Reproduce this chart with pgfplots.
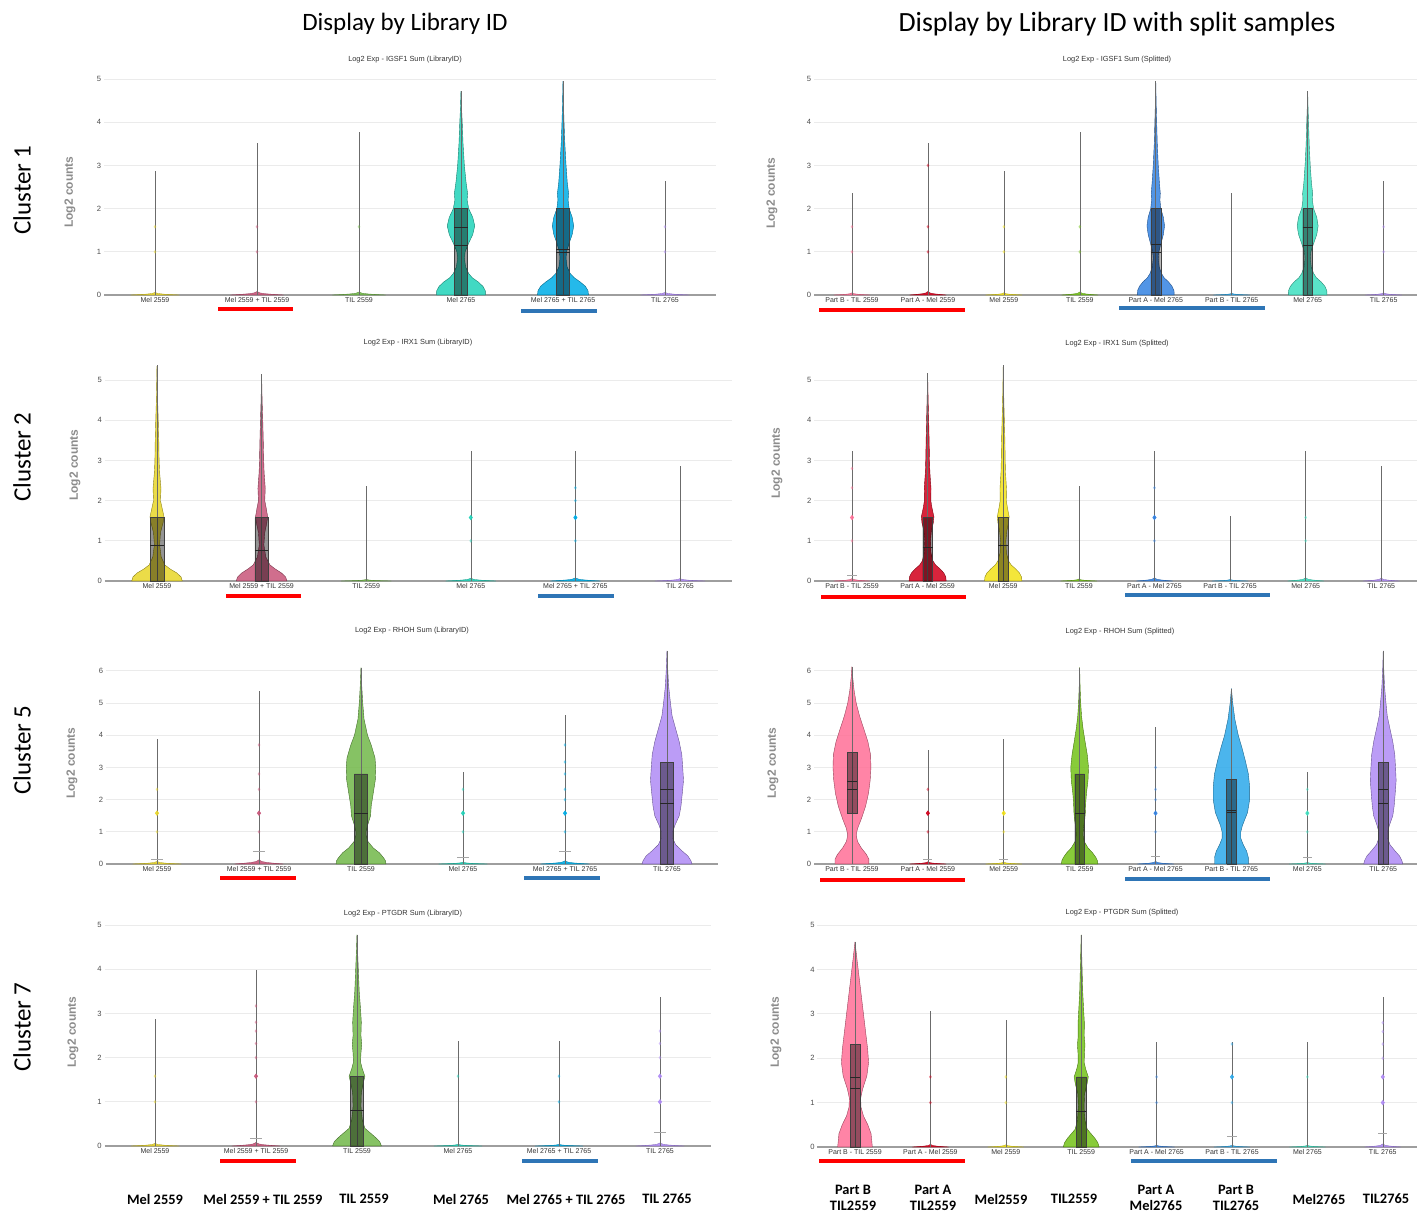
\documentclass[border=0pt]{standalone}
\usepackage{pgfplots}
\pgfplotsset{compat=1.18}
\usepackage{pgfplotstable}
\usepackage{fontspec}
\setmainfont{Carlito}
\newfontfamily\axfont{Liberation Sans}
% left-column colours
\definecolor{cA}{HTML}{E8D62A}
\definecolor{cB}{HTML}{C8567A}
\definecolor{cC}{HTML}{72B84A}
\definecolor{cD}{HTML}{22D3B9}
\definecolor{cE}{HTML}{00ADE6}
\definecolor{cF}{HTML}{B08CF5}
% right-column colours
\definecolor{rA}{HTML}{FF7097}
\definecolor{rB}{HTML}{D2001C}
\definecolor{rC}{HTML}{F2E21A}
\definecolor{rD}{HTML}{74C21A}
\definecolor{rE}{HTML}{3583E2}
\definecolor{rF}{HTML}{2DA9EA}
\definecolor{rG}{HTML}{3FE0C0}
\definecolor{rH}{HTML}{B08CF5}
\definecolor{ulred}{HTML}{FF0000}
\definecolor{ulblue}{HTML}{2E75B6}

\pgfplotstableread{
dx s
-1 0
1 0
1 1
-1 1
-1 0
}\boxT
\pgfplotstableread{
d e
-1 0
1 0
}\segT
\pgfplotstableread{
s e
0 0
1 0
}\vertT
\pgfplotstableread{
y w
0 0
0 1
0.15 0.7
0.35 0.35
0.6 0.12
1 0
}\tinyT

% ---- violin shapes (y, half width in category units) ----
\pgfplotstableread{
y w
0 0
0 0.24
0.1 0.238
0.2 0.215
0.3 0.17
0.4 0.11
0.5 0.075
0.65 0.045
0.85 0.033
1.0 0.04
1.2 0.075
1.4 0.115
1.6 0.135
1.8 0.115
2.0 0.075
2.2 0.06
2.35 0.065
2.6 0.05
3.0 0.033
3.5 0.02
4.0 0.012
4.3 0.006
4.72 0
}\vioA
\pgfplotstableread{
y w
0 0
0 0.25
0.1 0.245
0.2 0.22
0.3 0.17
0.4 0.11
0.5 0.07
0.65 0.04
0.85 0.03
1.0 0.035
1.2 0.06
1.4 0.09
1.6 0.105
1.8 0.09
2.0 0.06
2.2 0.05
2.35 0.055
2.6 0.042
3.0 0.03
3.5 0.018
4.0 0.01
4.4 0.005
4.95 0
}\vioB
\pgfplotstableread{
y w
0 0
0 0.243
0.1 0.24
0.2 0.215
0.3 0.17
0.4 0.11
0.5 0.075
0.65 0.045
0.85 0.033
1.0 0.04
1.2 0.07
1.4 0.1
1.6 0.116
1.8 0.1
2.0 0.066
2.2 0.055
2.35 0.06
2.6 0.048
3.0 0.033
3.5 0.02
4.0 0.012
4.4 0.006
4.95 0
}\vioC
\pgfplotstableread{
y w
0 0
0 0.255
0.1 0.252
0.2 0.228
0.3 0.18
0.4 0.115
0.5 0.078
0.65 0.047
0.85 0.035
1.0 0.042
1.2 0.08
1.4 0.12
1.6 0.138
1.8 0.12
2.0 0.078
2.2 0.062
2.35 0.066
2.6 0.05
3.0 0.034
3.5 0.02
4.0 0.012
4.3 0.006
4.72 0
}\vioD
\pgfplotstableread{
y w
0 0
0 0.242
0.1 0.23
0.2 0.19
0.3 0.125
0.4 0.075
0.6 0.04
0.9 0.025
1.2 0.033
1.45 0.058
1.6 0.067
1.8 0.05
2.0 0.033
2.3 0.038
2.7 0.025
3.0 0.02
3.5 0.017
4.0 0.012
4.5 0.006
5.35 0
}\vioE
\pgfplotstableread{
y w
0 0
0 0.242
0.1 0.23
0.2 0.19
0.3 0.13
0.4 0.08
0.6 0.04
0.9 0.022
1.2 0.03
1.45 0.05
1.6 0.058
1.8 0.045
2.0 0.03
2.3 0.035
2.7 0.024
3.0 0.02
3.5 0.016
4.0 0.011
4.5 0.005
5.15 0
}\vioF
\pgfplotstableread{
y w
0 0
0 0.245
0.1 0.24
0.2 0.215
0.3 0.165
0.4 0.105
0.5 0.07
0.7 0.045
1.0 0.038
1.25 0.05
1.45 0.075
1.6 0.083
1.8 0.06
2.0 0.042
2.3 0.045
2.7 0.03
3.0 0.025
3.5 0.02
4.0 0.014
4.5 0.007
5.17 0
}\vioG
\pgfplotstableread{
y w
0 0
0 0.247
0.1 0.242
0.2 0.215
0.3 0.165
0.4 0.105
0.5 0.07
0.7 0.042
1.0 0.035
1.25 0.048
1.45 0.07
1.6 0.078
1.8 0.058
2.0 0.04
2.3 0.043
2.7 0.03
3.0 0.026
3.5 0.022
4.0 0.015
4.5 0.008
5.37 0
}\vioH
\pgfplotstableread{
y w
0 0
0 0.245
0.1 0.24
0.2 0.22
0.35 0.18
0.5 0.12
0.7 0.068
0.9 0.05
1.0 0.05
1.2 0.064
1.5 0.094
1.8 0.1
2.0 0.11
2.2 0.12
2.6 0.14
3.0 0.145
3.3 0.137
3.7 0.1
4.0 0.064
4.5 0.03
5.0 0.017
5.5 0.008
6.1 0
}\vioI
\pgfplotstableread{
y w
0 0
0 0.245
0.1 0.235
0.25 0.205
0.4 0.15
0.6 0.085
0.8 0.056
1.0 0.056
1.2 0.077
1.5 0.12
1.8 0.137
2.2 0.15
2.6 0.162
3.0 0.154
3.4 0.145
3.8 0.12
4.2 0.085
4.6 0.05
5.0 0.034
5.5 0.017
6.0 0.008
6.62 0
}\vioJ
\pgfplotstableread{
y w
0 0
0 0.223
0.15 0.223
0.3 0.19
0.5 0.123
0.7 0.073
0.9 0.056
1.1 0.073
1.4 0.123
1.8 0.18
2.2 0.218
2.6 0.24
3.0 0.25
3.4 0.245
3.8 0.21
4.2 0.156
4.6 0.1
5.0 0.056
5.4 0.028
5.8 0.01
6.13 0
}\vioK
\pgfplotstableread{
y w
0 0
0 0.24
0.1 0.235
0.2 0.215
0.35 0.17
0.5 0.11
0.7 0.06
0.9 0.045
1.1 0.05
1.4 0.068
1.6 0.075
1.9 0.08
2.2 0.09
2.6 0.11
3.0 0.117
3.4 0.1
3.8 0.072
4.2 0.045
4.6 0.025
5.0 0.014
5.5 0.006
6.1 0
}\vioL
\pgfplotstableread{
y w
0 0
0 0.223
0.2 0.223
0.4 0.2
0.6 0.156
0.8 0.123
1.0 0.123
1.2 0.145
1.6 0.212
2.0 0.24
2.4 0.24
2.8 0.223
3.2 0.184
3.6 0.14
4.0 0.09
4.5 0.045
5.0 0.017
5.45 0
}\vioM
\pgfplotstableread{
y w
0 0
0 0.257
0.1 0.247
0.25 0.215
0.4 0.158
0.6 0.089
0.8 0.059
1.0 0.059
1.2 0.081
1.5 0.126
1.8 0.144
2.2 0.158
2.6 0.17
3.0 0.162
3.4 0.152
3.8 0.126
4.2 0.089
4.6 0.053
5.0 0.036
5.5 0.018
6.0 0.008
6.62 0
}\vioN
\pgfplotstableread{
y w
0 0
0 0.242
0.1 0.225
0.2 0.18
0.3 0.13
0.4 0.078
0.6 0.052
0.9 0.039
1.2 0.043
1.4 0.06
1.58 0.078
1.75 0.052
1.9 0.035
2.1 0.039
2.3 0.047
2.5 0.039
2.8 0.043
3.1 0.035
3.5 0.022
4.0 0.013
4.4 0.006
4.78 0
}\vioO
\pgfplotstableread{
y w
0 0
0 0.23
0.3 0.213
0.5 0.17
0.7 0.112
0.9 0.079
1.1 0.075
1.3 0.1
1.6 0.157
1.9 0.18
2.2 0.168
2.6 0.14
3.0 0.112
3.4 0.084
3.8 0.056
4.2 0.028
4.62 0
}\vioP
\pgfplotstableread{
y w
0 0
0 0.238
0.1 0.22
0.2 0.18
0.3 0.13
0.4 0.08
0.6 0.05
0.9 0.038
1.2 0.045
1.4 0.075
1.58 0.094
1.75 0.06
1.9 0.04
2.1 0.042
2.3 0.05
2.5 0.04
2.8 0.042
3.1 0.032
3.5 0.02
4.0 0.012
4.4 0.006
4.78 0
}\vioQ

% ---- drawing helpers (all through \addplot) ----
\newcommand\vio[3]{%
 \addplot[fill=#2, fill opacity=0.86, draw=#2!60!black, line width=0.2pt] table[x expr=#1+\thisrow{w}, y=y]{#3};
 \addplot[fill=#2, fill opacity=0.86, draw=#2!60!black, line width=0.2pt] table[x expr=#1-\thisrow{w}, y=y]{#3};}
\newcommand\tv[4]{%
 \addplot[fill=#2, fill opacity=0.9, draw=#2!75!black, line width=0.15pt] table[x expr=#1+#4*\thisrow{w}, y expr=#3*\thisrow{y}]{\tinyT};
 \addplot[fill=#2, fill opacity=0.9, draw=#2!75!black, line width=0.15pt] table[x expr=#1-#4*\thisrow{w}, y expr=#3*\thisrow{y}]{\tinyT};}
\newcommand\wh[2]{\addplot[draw=black!58, line width=0.3pt] table[x expr=#1, y expr=#2*\thisrow{s}]{\vertT};}
\newcommand\hl[2]{\addplot[draw=black!85, line width=0.25pt] table[x expr=#1+0.065*\thisrow{d}, y expr=#2]{\segT};}
\newcommand\cp[2]{\addplot[draw=black!35, line width=0.3pt] table[x expr=#1+0.06*\thisrow{d}, y expr=#2]{\segT};}
\newcommand\bx[3]{\addplot[fill=black, fill opacity=0.42, draw=black!75, line width=0.2pt] table[x expr=#1+0.065*\thisrow{dx}, y expr=#2+(#3-#2)*\thisrow{s}]{\boxT};}
% faint outliers and prominent outliers
\newcommand\ol[2]{\addplot[only marks, mark=diamond*, mark size=0.65pt, color=#1, opacity=0.35] coordinates {#2};}
\newcommand\olb[2]{\addplot[only marks, mark=diamond*, mark size=1.05pt, color=#1, opacity=0.9] coordinates {#2};}

\pgfplotsset{
 vbase/.style={
  scale only axis, anchor=south west,
  axis x line=bottom, axis y line=left,
  axis line style={-},
  x axis line style={draw=black!38, line width=0.6pt},
  y axis line style={draw=none},
  major tick length=0pt, tick style={draw=none},
  ymajorgrids, grid style={draw=black!8, line width=0.45pt},
  ymin=0, xmin=-0.5,
  ytick={0,1,2,3,4,5,6},
  /pgf/number format/assume math mode=true,
  yticklabel style={font=\axfont\fontsize{3.8}{4}\selectfont, text=black!70, inner sep=1.2pt},
  xticklabel style={font=\axfont\fontsize{3.5}{4}\selectfont, text=black!80, inner sep=1pt},
  clip=false,
 },
 leftcats/.style={xmax=5.5, xtick={0,1,2,3,4,5},
  xticklabels={{Mel 2559},{Mel 2559 + TIL 2559},{TIL 2559},{Mel 2765},{Mel 2765 + TIL 2765},{TIL 2765}}},
 rightcats/.style={xtick={0,1,2,3,4,5,6,7},
  xticklabels={{Part B - TIL 2559},{Part A - Mel 2559},{Mel 2559},{TIL 2559},{Part A - Mel 2765},{Part  B - TIL 2765},{Mel 2765},{TIL 2765}}},
}

\begin{document}
\begin{tikzpicture}
\useasboundingbox (0,0) rectangle (708.5pt,-606pt);

% ===== Row 1 left =====
\begin{axis}[vbase, leftcats, at={(52pt,-147.5pt)}, width=306pt, height=108pt, ymax=5]
\tv{0}{cA}{0.06}{0.24} \wh{0}{2.87} \ol{cA}{(0,1) (0,1.58)}
\tv{1}{cB}{0.08}{0.26} \wh{1}{3.52} \ol{cB}{(1,1) (1,1.58)}
\tv{2}{cC}{0.07}{0.26} \wh{2}{3.78} \ol{cC}{(2,1.58)}
\vio{3}{cD}{\vioA} \wh{3}{4.72} \bx{3}{0}{2} \hl{3}{1.58} \hl{3}{1.15}
\vio{4}{cE}{\vioB} \wh{4}{4.95} \bx{4}{0}{2} \hl{4}{1.0} \hl{4}{1.07}
\tv{5}{cF}{0.06}{0.24} \wh{5}{2.63} \ol{cF}{(5,1) (5,1.58)}
\end{axis}

% ===== Row 1 right =====
\begin{axis}[vbase, rightcats, at={(407pt,-147.5pt)}, width=301.5pt, height=108pt, xmax=7.44, ymax=5]
\tv{0}{rA}{0.05}{0.24} \wh{0}{2.37} \ol{rA}{(0,1) (0,1.58)}
\tv{1}{rB}{0.08}{0.24} \wh{1}{3.53} \ol{rB}{(1,1) (1,1.58) (1,3)}
\tv{2}{rC}{0.05}{0.24} \wh{2}{2.87} \ol{rC}{(2,1) (2,1.58)}
\tv{3}{rD}{0.07}{0.24} \wh{3}{3.78} \ol{rD}{(3,1) (3,1.58)}
\vio{4}{rE}{\vioC} \wh{4}{4.95} \bx{4}{0}{2} \hl{4}{1.0} \hl{4}{1.17}
\tv{5}{rF}{0.04}{0.24} \wh{5}{2.37}
\vio{6}{rG}{\vioD} \wh{6}{4.72} \bx{6}{0}{2} \hl{6}{1.58} \hl{6}{1.15}
\tv{7}{rH}{0.05}{0.24} \wh{7}{2.63} \ol{rH}{(7,1) (7,1.58)}
\end{axis}

% ===== Row 2 left =====
\begin{axis}[vbase, leftcats, at={(52.35pt,-290.5pt)}, width=313.8pt, height=108.5pt, ymax=5.4]
\vio{0}{cA}{\vioE} \wh{0}{5.37} \bx{0}{0}{1.58} \hl{0}{0.9}
\vio{1}{cB}{\vioF} \wh{1}{5.15} \bx{1}{0}{1.58} \hl{1}{0.77}
\tv{2}{cC}{0.04}{0.24} \wh{2}{2.37}
\tv{3}{cD}{0.07}{0.24} \wh{3}{3.23} \ol{cD}{(3,1)} \olb{cD}{(3,1.58)}
\tv{4}{cE}{0.08}{0.24} \wh{4}{3.23} \ol{cE}{(4,1) (4,2) (4,2.32)} \olb{cE}{(4,1.58)}
\tv{5}{cF}{0.06}{0.24} \wh{5}{2.87}
\end{axis}

% ===== Row 2 right =====
\begin{axis}[vbase, rightcats, at={(407.1pt,-290.5pt)}, width=301.3pt, height=108.5pt, xmax=7.47, ymax=5.4]
\tv{0}{rA}{0.06}{0.24} \wh{0}{3.23} \cp{0}{0.15} \ol{rA}{(0,1) (0,2.32) (0,2.8)} \olb{rA}{(0,1.58)}
\vio{1}{rB}{\vioG} \wh{1}{5.17} \bx{1}{0}{1.58} \hl{1}{0.83}
\vio{2}{rC}{\vioH} \wh{2}{5.37} \bx{2}{0}{1.58} \hl{2}{0.88}
\tv{3}{rD}{0.05}{0.24} \wh{3}{2.37}
\tv{4}{rE}{0.08}{0.24} \wh{4}{3.23} \ol{rE}{(4,1) (4,2.32)} \olb{rE}{(4,1.58)}
\tv{5}{rF}{0.04}{0.24} \wh{5}{1.62}
\tv{6}{rG}{0.08}{0.24} \wh{6}{3.23} \ol{rG}{(6,1) (6,1.58)}
\tv{7}{rH}{0.07}{0.24} \wh{7}{2.87}
\end{axis}

% ===== Row 3 left =====
\begin{axis}[vbase, leftcats, at={(53pt,-432pt)}, width=306pt, height=107pt, ymax=6.65]
\tv{0}{cA}{0.08}{0.24} \wh{0}{3.88} \cp{0}{0.15} \ol{cA}{(0,1) (0,2.32)} \olb{cA}{(0,1.58)}
\tv{1}{cB}{0.13}{0.24} \wh{1}{5.38} \cp{1}{0.38} \ol{cB}{(1,1) (1,2.32) (1,2.8) (1,3.7)} \olb{cB}{(1,1.58)}
\vio{2}{cC}{\vioI} \wh{2}{6.1} \bx{2}{0}{2.8} \hl{2}{1.58}
\tv{3}{cD}{0.06}{0.24} \wh{3}{2.87} \cp{3}{0.22} \ol{cD}{(3,1) (3,2.32)} \olb{cD}{(3,1.58)}
\tv{4}{cE}{0.1}{0.24} \wh{4}{4.62} \cp{4}{0.38} \ol{cE}{(4,1) (4,2) (4,2.32) (4,2.8) (4,3.17) (4,3.7)} \olb{cE}{(4,1.58)}
\vio{5}{cF}{\vioJ} \wh{5}{6.62} \bx{5}{0}{3.17} \hl{5}{2.32} \hl{5}{1.88}
\end{axis}

% ===== Row 3 right =====
\begin{axis}[vbase, rightcats, at={(407pt,-432pt)}, width=301.3pt, height=107pt, xmax=7.44, ymax=6.65]
\vio{0}{rA}{\vioK} \wh{0}{6.13} \bx{0}{1.58}{3.47} \hl{0}{2.58} \hl{0}{2.32}
\tv{1}{rB}{0.07}{0.24} \wh{1}{3.53} \cp{1}{0.15} \ol{rB}{(1,1) (1,2.32)} \olb{rB}{(1,1.58)}
\tv{2}{rC}{0.06}{0.24} \wh{2}{3.88} \cp{2}{0.15} \ol{rC}{(2,1)} \olb{rC}{(2,1.58)}
\vio{3}{rD}{\vioL} \wh{3}{6.1} \bx{3}{0}{2.8} \hl{3}{1.58}
\tv{4}{rE}{0.08}{0.24} \wh{4}{4.25} \cp{4}{0.25} \ol{rE}{(4,1) (4,2) (4,2.32) (4,3)} \olb{rE}{(4,1.58)}
\vio{5}{rF}{\vioM} \wh{5}{5.45} \bx{5}{0}{2.63} \hl{5}{1.6} \hl{5}{1.66}
\tv{6}{rG}{0.05}{0.24} \wh{6}{2.87} \cp{6}{0.22} \ol{rG}{(6,1) (6,2.32)} \olb{rG}{(6,1.58)}
\vio{7}{rH}{\vioN} \wh{7}{6.62} \bx{7}{0}{3.17} \hl{7}{2.32} \hl{7}{1.88}
\end{axis}

% ===== Row 4 left =====
\begin{axis}[vbase, leftcats, at={(52.25pt,-573pt)}, width=303pt, height=110.5pt, ymax=5]
\tv{0}{cA}{0.06}{0.24} \wh{0}{2.87} \ol{cA}{(0,1) (0,1.58)}
\tv{1}{cB}{0.08}{0.24} \wh{1}{3.99} \cp{1}{0.17} \ol{cB}{(1,1) (1,2) (1,2.32) (1,2.6) (1,2.8) (1,3.17)} \olb{cB}{(1,1.58)}
\vio{2}{cC}{\vioO} \wh{2}{4.78} \bx{2}{0}{1.58} \hl{2}{0.8}
\tv{3}{cD}{0.04}{0.24} \wh{3}{2.37} \ol{cD}{(3,1.58)}
\tv{4}{cE}{0.04}{0.24} \wh{4}{2.37} \ol{cE}{(4,1) (4,1.58)}
\tv{5}{cF}{0.07}{0.24} \wh{5}{3.38} \cp{5}{0.3} \ol{cF}{(5,2) (5,2.32) (5,2.6)} \olb{cF}{(5,1) (5,1.58)}
\end{axis}

% ===== Row 4 right =====
\begin{axis}[vbase, rightcats, at={(408.65pt,-573.5pt)}, width=299.7pt, height=111pt, xmax=7.45, ymax=5]
\vio{0}{rA}{\vioP} \wh{0}{4.62} \bx{0}{0}{2.32} \hl{0}{1.58} \hl{0}{1.32}
\tv{1}{rB}{0.06}{0.24} \wh{1}{3.07} \ol{rB}{(1,1) (1,1.58)}
\tv{2}{rC}{0.05}{0.24} \wh{2}{2.87} \ol{rC}{(2,1) (2,1.58)}
\vio{3}{rD}{\vioQ} \wh{3}{4.78} \bx{3}{0}{1.58} \hl{3}{0.8}
\tv{4}{rE}{0.04}{0.24} \wh{4}{2.37} \ol{rE}{(4,1) (4,1.58)}
\tv{5}{rF}{0.04}{0.24} \wh{5}{2.37} \cp{5}{0.24} \ol{rF}{(5,1) (5,2.32)} \olb{rF}{(5,1.58)}
\tv{6}{rG}{0.04}{0.24} \wh{6}{2.37} \ol{rG}{(6,1.58)}
\tv{7}{rH}{0.07}{0.24} \wh{7}{3.38} \cp{7}{0.3} \ol{rH}{(7,2) (7,2.32) (7,2.6) (7,2.8)} \olb{rH}{(7,1) (7,1.58)}
\end{axis}

% ===== annotations in pixel units =====
\begin{scope}[x=0.5pt,y=-0.5pt]
\node[font=\fontsize{12.5}{14}\selectfont] at (405,24) {Display by Library ID};
\node[font=\fontsize{13.9}{15}\selectfont] at (1117,24) {Display by Library ID with split samples};
\foreach \yy/\tt in {190/Cluster 1, 457/Cluster 2, 750/Cluster 5, 1027/Cluster 7}
  \node[rotate=90, font=\fontsize{12.5}{14}\selectfont] at (22,\yy) {\tt};
% y labels
\foreach \xx/\yy in {70/192, 772/193, 75/465, 777/463, 72/763, 773/763, 73/1032, 776/1032}
  \node[rotate=90, font=\axfont\bfseries\fontsize{6}{7}\selectfont, text=black!45] at (\xx,\yy) {Log2 counts};
% panel titles
\foreach \xx/\yy/\tt in {405/60/IGSF1 Sum (LibraryID), 1117/60/IGSF1 Sum (Splitted), 418/343/IRX1 Sum (LibraryID), 1117/344/IRX1 Sum (Splitted), 412/631/RHOH Sum (LibraryID), 1120/632/RHOH Sum (Splitted), 403/914/PTGDR Sum (LibraryID), 1122/913/PTGDR Sum (Splitted)}
  \node[font=\axfont\fontsize{3.7}{4}\selectfont, text=black!80] at (\xx,\yy) {Log2 Exp - \tt};
% underline bars
\foreach \a/\b/\yy in {218/293/309, 226/301/596, 220/296/878, 220/296/1161, 819/965/310, 821/966/597, 820/965/880, 819/965/1161}
  \draw[ulred, line width=2pt] (\a,\yy) -- (\b,\yy);
\foreach \a/\b/\yy in {521/597/311, 538/614/596, 524/600/878, 522/598/1161, 1119/1265/308, 1125/1270/595, 1125/1270/879, 1131/1277/1161}
  \draw[ulblue, line width=2pt] (\a,\yy) -- (\b,\yy);
% bottom labels
\begin{scope}[every node/.style={font=\bfseries\fontsize{7.2}{7.7}\selectfont, align=center, inner sep=0pt}]
\node at (155,1199) {Mel 2559};
\node at (263,1199) {Mel 2559 + TIL 2559};
\node at (364,1199) {TIL 2559};
\node at (461,1199) {Mel 2765};
\node at (566,1199) {Mel 2765 + TIL 2765};
\node at (667,1199) {TIL 2765};
\node at (853,1198) {Part B\\TIL2559};
\node at (933,1198) {Part A\\TIL2559};
\node at (1001,1199) {Mel2559};
\node at (1074,1199) {TIL2559};
\node at (1156,1198) {Part A\\Mel2765};
\node at (1236,1198) {Part B\\TIL2765};
\node at (1319,1199) {Mel2765};
\node at (1386,1199) {TIL2765};
\end{scope}
\end{scope}
\end{tikzpicture}
\end{document}
